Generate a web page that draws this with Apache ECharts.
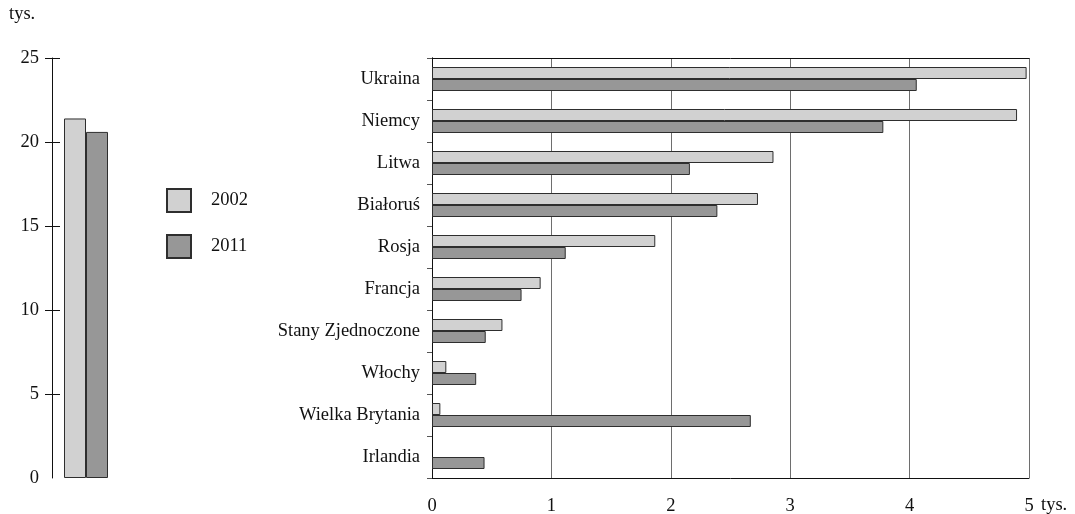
<!DOCTYPE html>
<html>
<head>
<meta charset="utf-8">
<script src="https://cdn.jsdelivr.net/npm/echarts@6/dist/echarts.min.js"></script>
<style>
  html, body { margin: 0; padding: 0; background: #fff; }
  #chart { width: 1075px; height: 514px; }
</style>
</head>
<body>
<div id="chart"></div>
<script>
// dane
const years = ['2002', '2011']
const totalCategory = ['razem']
const total2002 = [21.4]
const total2011 = [20.6]
const totalTicks = [5, 10, 15, 20, 25]

const countries = ['Ukraina', 'Niemcy', 'Litwa', 'Białoruś', 'Rosja', 'Francja',
  'Stany Zjednoczone', 'Włochy', 'Wielka Brytania', 'Irlandia']
const values2002 = [4.98, 4.90, 2.86, 2.73, 1.87, 0.91, 0.59, 0.12, 0.07, null]
const values2011 = [4.06, 3.78, 2.16, 2.39, 1.12, 0.75, 0.45, 0.37, 2.67, 0.44]

const LIGHT = '#d1d1d1'
const DARK = '#979797'
const BORDER = '#2e2e2e'
const FONT = '"Liberation Serif", "DejaVu Serif", serif'
const FS = 18.5

const myChart = echarts.init(document.getElementById('chart'))

const barStyle = (color) => ({ color: color, borderColor: BORDER, borderWidth: 1 })

const option = {
  animation: false,
  backgroundColor: '#fff',
  textStyle: { fontFamily: FONT },
  legend: {
    data: years,
    orient: 'vertical',
    left: 166,
    top: 188,
    padding: 0,
    icon: 'rect',
    itemWidth: 24,
    itemHeight: 23,
    itemGap: 21,
    textStyle: { fontFamily: FONT, fontSize: FS, color: '#111', padding: [0, 0, 0, 15] },
  },
  grid: [
    { left: 52, top: 58, width: 68, height: 420, outerBoundsMode: 'none' },
    { left: 432, top: 58, width: 597, height: 420, outerBoundsMode: 'none' },
  ],
  xAxis: [
    { gridIndex: 0, type: 'category', data: totalCategory, show: false },
    {
      gridIndex: 1,
      type: 'value',
      min: 0,
      max: 5,
      interval: 1,
      axisLine: { show: true, lineStyle: { color: '#111', width: 1 } },
      axisTick: { show: false },
      axisLabel: { fontFamily: FONT, fontSize: FS, color: '#111', margin: 19 },
      splitLine: { show: true, lineStyle: { color: '#6e6e6e', width: 1 } },
    },
    {
      // górna krawędź ramki
      gridIndex: 1,
      type: 'value',
      position: 'top',
      min: 0,
      max: 5,
      interval: 1,
      axisLine: { show: true, lineStyle: { color: '#111', width: 1 } },
      axisTick: { show: false },
      axisLabel: { show: false },
      splitLine: { show: false },
    },
  ],
  yAxis: [
    {
      gridIndex: 0,
      type: 'value',
      min: 0,
      max: 25,
      interval: 5,
      position: 'left',
      axisLine: { show: true, lineStyle: { color: '#111', width: 1 } },
      axisTick: { show: true, length: 7, customValues: totalTicks, lineStyle: { color: '#111' } },
      axisLabel: { fontFamily: FONT, fontSize: FS, color: '#111', margin: 13 },
      splitLine: { show: false },
    },
    {
      // tick po prawej stronie osi
      gridIndex: 0,
      type: 'value',
      min: 0,
      max: 25,
      interval: 5,
      position: 'left',
      axisLine: { show: false },
      axisTick: { show: true, inside: true, length: 8, customValues: totalTicks, lineStyle: { color: '#111' } },
      axisLabel: { show: false },
      splitLine: { show: false },
    },
    {
      gridIndex: 1,
      type: 'category',
      data: countries,
      inverse: true,
      axisLine: { show: true, lineStyle: { color: '#111', width: 1 } },
      axisTick: { show: true, length: 5, lineStyle: { color: '#555' } },
      axisLabel: { fontFamily: FONT, fontSize: FS, color: '#111', margin: 12 },
    },
    {
      // prawa krawędź ramki
      gridIndex: 1,
      type: 'category',
      data: countries,
      inverse: true,
      position: 'right',
      axisLine: { show: true, lineStyle: { color: '#111', width: 1 } },
      axisTick: { show: false },
      axisLabel: { show: false },
    },
  ],
  series: [
    {
      name: '2002', type: 'bar', xAxisIndex: 0, yAxisIndex: 0,
      data: total2002, barWidth: 22, barGap: '0%', itemStyle: barStyle(LIGHT),
    },
    {
      name: '2011', type: 'bar', xAxisIndex: 0, yAxisIndex: 0,
      data: total2011, barWidth: 22, barGap: '0%', itemStyle: barStyle(DARK),
    },
    {
      name: '2002', type: 'bar', xAxisIndex: 1, yAxisIndex: 2,
      data: values2002, barWidth: 12, barGap: '0%', itemStyle: barStyle(LIGHT),
    },
    {
      name: '2011', type: 'bar', xAxisIndex: 1, yAxisIndex: 2,
      data: values2011, barWidth: 12, barGap: '0%', itemStyle: barStyle(DARK),
    },
  ],
  graphic: [
    {
      type: 'text', left: 9, top: 5,
      style: { text: 'tys.', font: FS + 'px ' + FONT, fill: '#111' },
    },
    {
      type: 'text', left: 1041, top: 496,
      style: { text: 'tys.', font: FS + 'px ' + FONT, fill: '#111' },
    },
  ],
}

myChart.setOption(option)
</script>
</body>
</html>
